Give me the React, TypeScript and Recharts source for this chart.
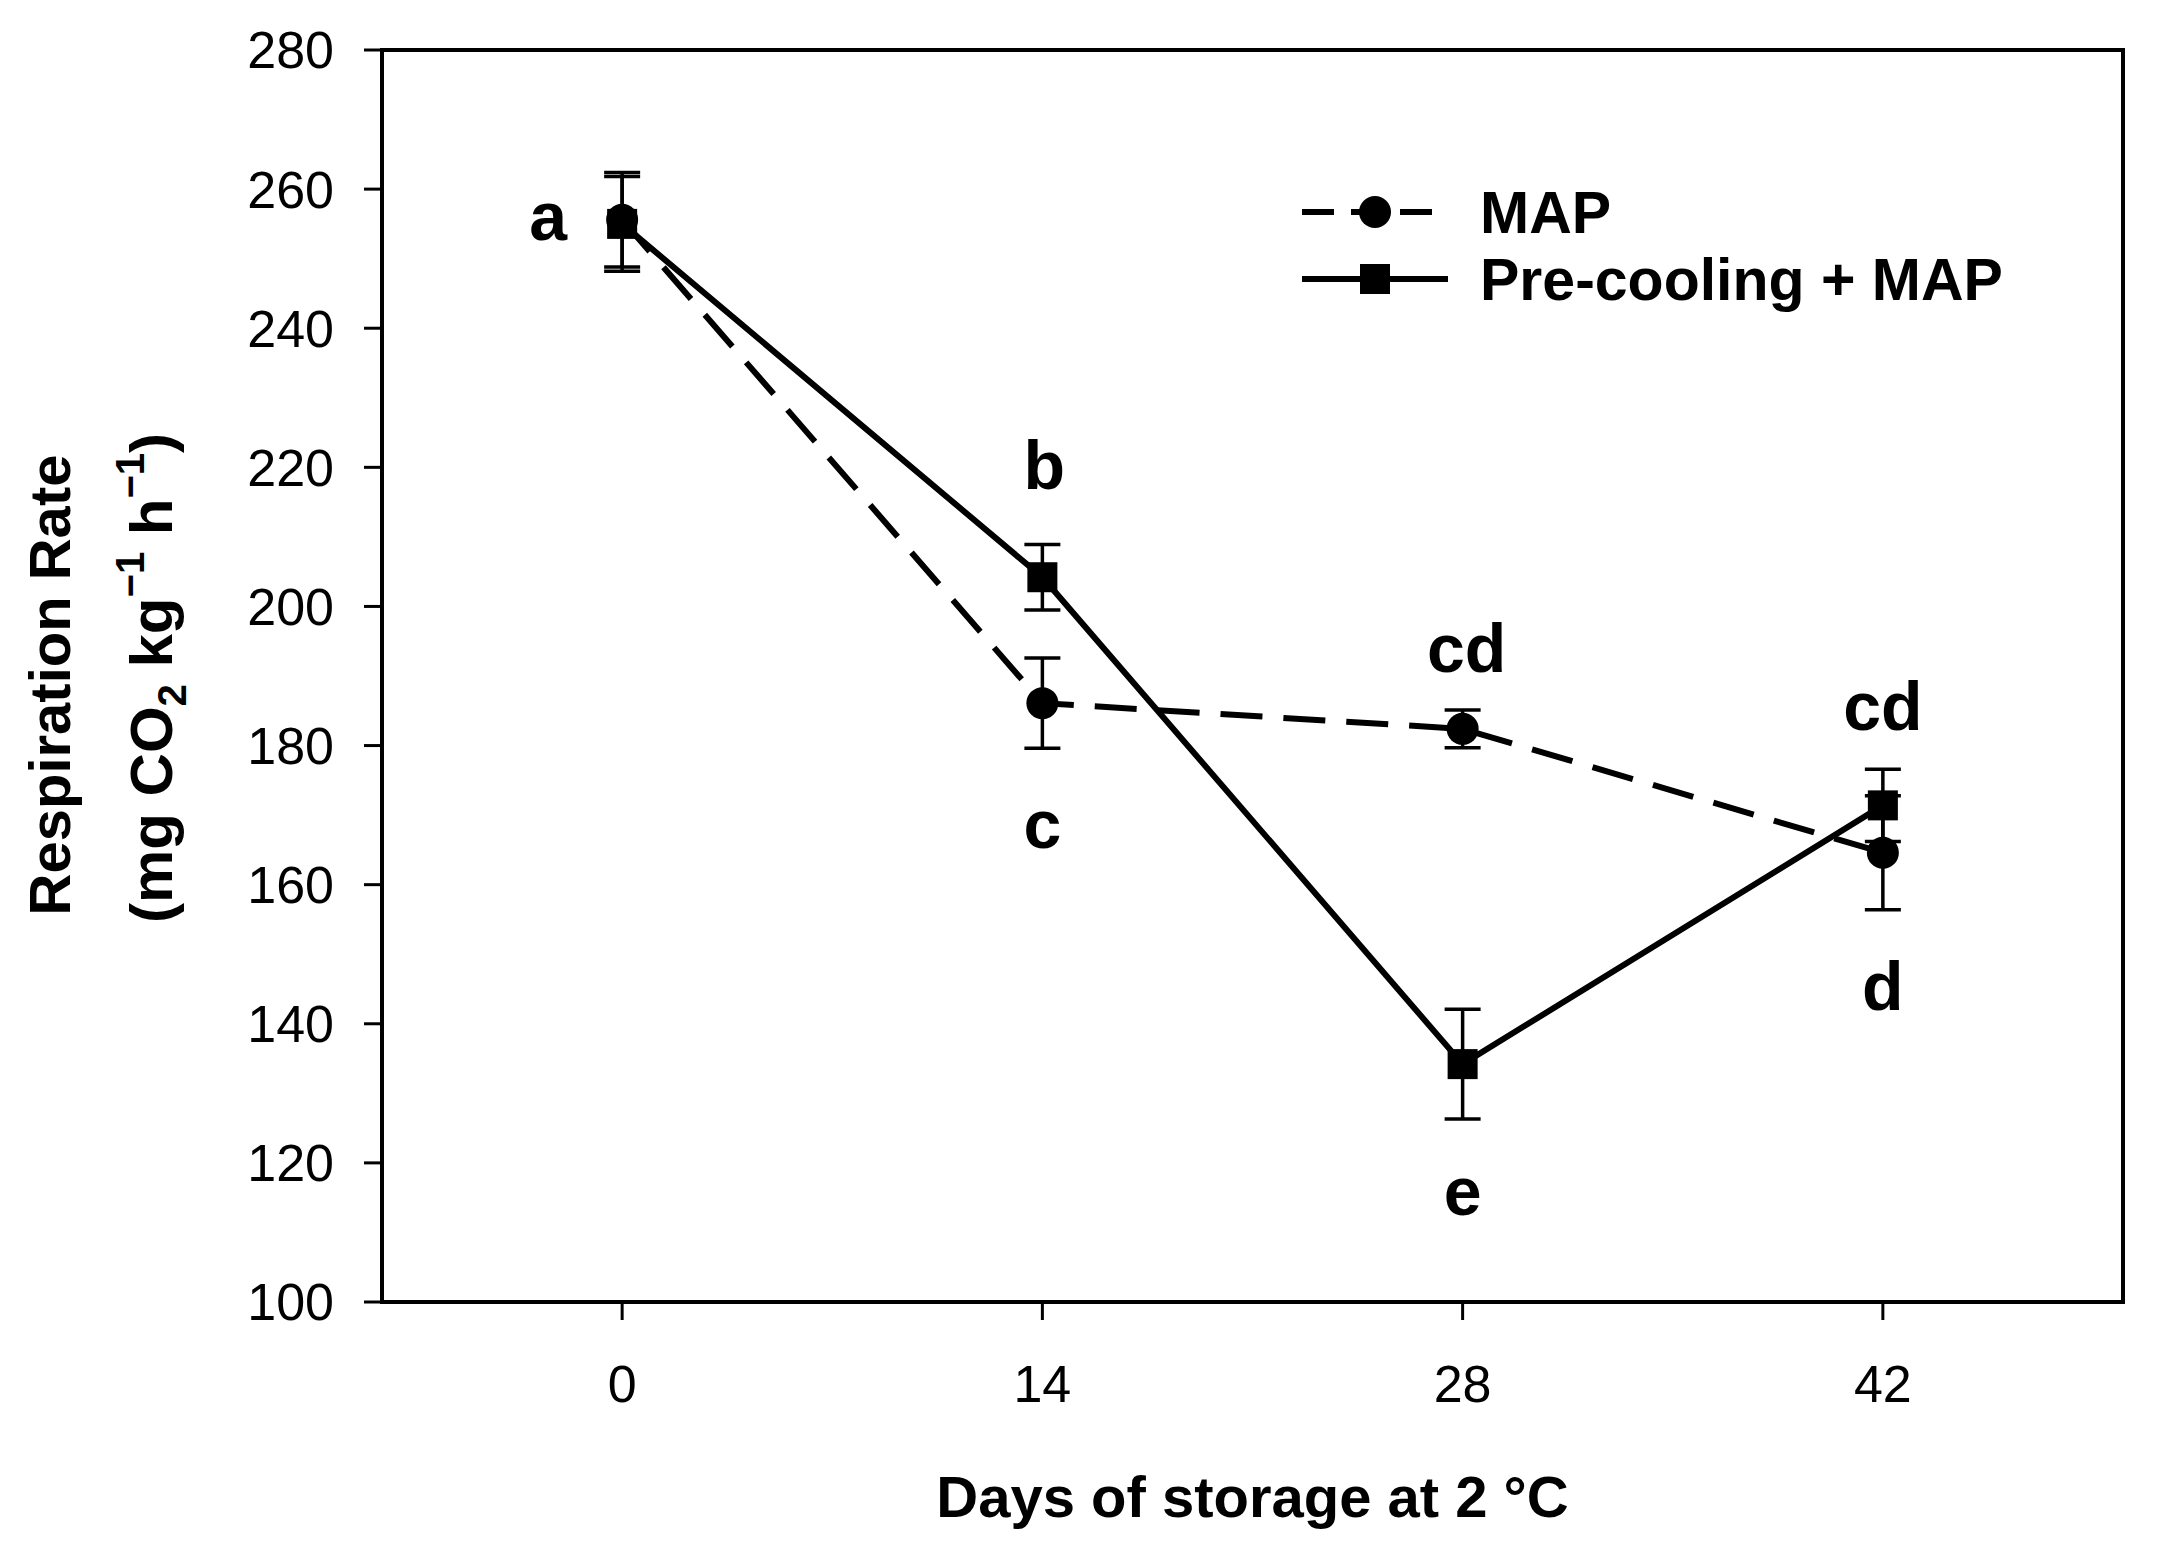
import {
  LineChart,
  Line,
  XAxis,
  YAxis,
  ErrorBar,
  LabelList,
  Legend,
  ReferenceArea,
  Label,
} from 'recharts';

const FONT = '"Liberation Sans", Arial, Helvetica, sans-serif';

// storage days
const days = [0, 14, 28, 42];

// MAP (dashed, circles)
const mapRate = [255.6, 186.1, 182.4, 164.6];
const mapSE = [6.8, 6.5, 2.7, 8.2];
const mapLetters = ['a', 'c', 'cd', 'd'];

// Pre-cooling + MAP (solid, squares)
const preRate = [255.0, 204.2, 134.2, 171.4];
const preSE = [6.8, 4.7, 7.9, 5.2];
const preLetters = ['', 'b', 'e', 'cd'];

const xTicks = [0, 14, 28, 42];
const yTicks = [100, 120, 140, 160, 180, 200, 220, 240, 260, 280];

const data = days.map((day, i) => ({
  day,
  map: mapRate[i],
  mapErr: mapSE[i],
  mapLetter: mapLetters[i],
  pre: preRate[i],
  preErr: preSE[i],
  preLetter: preLetters[i],
}));

// where each significance letter sits relative to its point (px)
const mapLetterOffset = [[-74, 20], [0, 145], [4, -57], [0, 157]];
const preLetterOffset = [[0, 0], [2, -88], [0, 151], [0, -75]];

const CircleDot = (props: any) => {
  const { cx, cy, index } = props;
  if (cx == null || cy == null) return null;
  return <circle key={`c-${index}`} cx={cx} cy={cy} r={16} fill="#000" />;
};

const SquareDot = (props: any) => {
  const { cx, cy, index } = props;
  if (cx == null || cy == null) return null;
  return <rect key={`s-${index}`} x={cx - 15} y={cy - 15} width={30} height={30} fill="#000" />;
};

const letterRenderer = (offsets: number[][]) => (props: any) => {
  const { x, y, index, value } = props;
  if (!value) return null;
  const [dx, dy] = offsets[index] || [0, 0];
  return (
    <text
      key={`l-${index}`}
      x={x + dx}
      y={y + dy}
      textAnchor="middle"
      fontSize={68}
      fontWeight="bold"
      fontFamily={FONT}
      fill="#000"
    >
      {value}
    </text>
  );
};

const YTitle = () => (
  <g fontFamily={FONT} fontWeight="bold" fill="#000">
    <text x={70} y={685} transform="rotate(-90, 70, 685)" textAnchor="middle" fontSize={58}>
      Respiration Rate
    </text>
    <text x={172} y={678} transform="rotate(-90, 172, 678)" textAnchor="middle" fontSize={60}>
      (mg CO
      <tspan fontSize={40} dy={14}>2</tspan>
      <tspan dy={-14}> kg</tspan>
      <tspan fontSize={40} dy={-28}>−1</tspan>
      <tspan dy={28}> h</tspan>
      <tspan fontSize={40} dy={-28}>−1</tspan>
      <tspan dy={28}>)</tspan>
    </text>
  </g>
);

const legendRows = [
  { name: 'MAP', dash: '32 17', marker: 'circle' },
  { name: 'Pre-cooling + MAP', dash: undefined, marker: 'square' },
];

const renderLegend = () => (
  <svg width={760} height={170} style={{ display: 'block', overflow: 'visible' }}>
    {legendRows.map((row, i) => {
      const y = 42 + i * 67;
      return (
        <g key={row.name}>
          <line
            x1={0}
            x2={row.dash ? 130 : 146}
            y1={y}
            y2={y}
            stroke="#000"
            strokeWidth={6}
            strokeDasharray={row.dash}
          />
          {row.marker === 'circle' ? (
            <circle cx={73} cy={y} r={16} fill="#000" />
          ) : (
            <rect x={58} y={y - 15} width={30} height={30} fill="#000" />
          )}
          <text
            x={178}
            y={y + 21}
            fontSize={59}
            fontWeight="bold"
            fontFamily={FONT}
            fill="#000"
          >
            {row.name}
          </text>
        </g>
      );
    })}
  </svg>
);

export default function App() {
  return (
    <div style={{ width: 2157, height: 1544, background: '#fff' }}>
      <style>{'body{margin:0;background:#fff}'}</style>
      <LineChart
        width={2157}
        height={1544}
        data={data}
        margin={{ top: 50, right: 34, bottom: 0, left: 0 }}
      >
        <XAxis
          dataKey="day"
          type="number"
          domain={[-8, 50]}
          ticks={xTicks}
          interval={0}
          height={242}
          tickSize={18}
          tickMargin={45}
          axisLine={{ stroke: '#000', strokeWidth: 4 }}
          tickLine={{ stroke: '#000', strokeWidth: 3 }}
          tick={{ fill: '#000', fontSize: 52, fontFamily: FONT }}
        >
          <Label
            value="Days of storage at 2 °C"
            position="insideBottom"
            offset={27}
            style={{ fontSize: 58, fontWeight: 'bold', fill: '#000', fontFamily: FONT }}
          />
        </XAxis>
        <YAxis
          type="number"
          domain={[100, 280]}
          ticks={yTicks}
          interval={0}
          width={382}
          tickSize={18}
          tickMargin={30}
          axisLine={{ stroke: '#000', strokeWidth: 4 }}
          tickLine={{ stroke: '#000', strokeWidth: 3 }}
          tick={{ fill: '#000', fontSize: 52, fontFamily: FONT }}
          label={{ content: () => <YTitle /> }}
        />
        <ReferenceArea
          x1={-8}
          x2={50}
          y1={100}
          y2={280}
          fill="none"
          fillOpacity={0}
          stroke="#000"
          strokeWidth={4}
        />
        <Legend
          layout="vertical"
          align="center"
          verticalAlign="middle"
          content={renderLegend}
          wrapperStyle={{ left: 1302, top: 170, width: 760, height: 170 }}
        />
        <Line
          type="linear"
          dataKey="pre"
          name="Pre-cooling + MAP"
          stroke="#000"
          strokeWidth={6}
          dot={SquareDot}
          activeDot={false}
          isAnimationActive={false}
        >
          <ErrorBar
            dataKey="preErr"
            direction="y"
            width={18}
            stroke="#000"
            strokeWidth={3.5}
            isAnimationActive={false}
          />
          <LabelList dataKey="preLetter" content={letterRenderer(preLetterOffset)} />
        </Line>
        <Line
          type="linear"
          dataKey="map"
          name="MAP"
          stroke="#000"
          strokeWidth={6}
          strokeDasharray="42 21"
          dot={CircleDot}
          activeDot={false}
          isAnimationActive={false}
        >
          <ErrorBar
            dataKey="mapErr"
            direction="y"
            width={18}
            stroke="#000"
            strokeWidth={3.5}
            isAnimationActive={false}
          />
          <LabelList dataKey="mapLetter" content={letterRenderer(mapLetterOffset)} />
        </Line>
      </LineChart>
    </div>
  );
}
